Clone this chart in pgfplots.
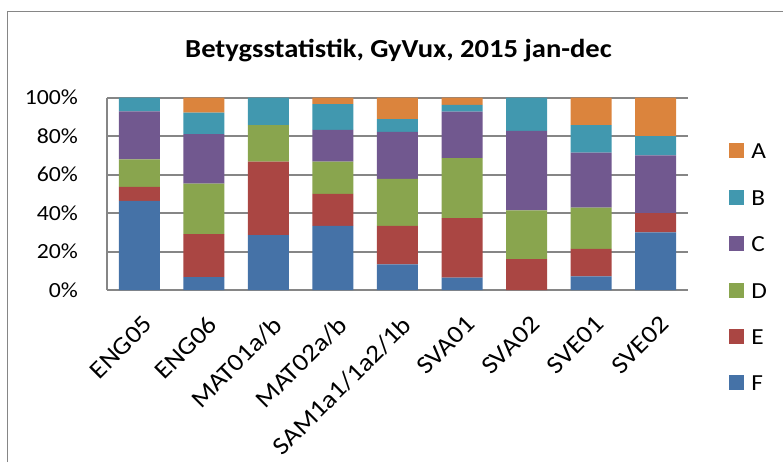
\documentclass[border=0pt]{standalone}
\usepackage{pgfplots}
\pgfplotsset{compat=1.18}
\usepackage{pgfplotstable}
\usepackage{fontspec}
\setmainfont{Carlito}[FakeStretch=1.1]

\definecolor{cA}{HTML}{DB843D}
\definecolor{cB}{HTML}{4198AF}
\definecolor{cC}{HTML}{71588F}
\definecolor{cD}{HTML}{89A54E}
\definecolor{cE}{HTML}{AA4643}
\definecolor{cF}{HTML}{4572A7}
\definecolor{grd}{HTML}{868686}

% andel per betyg (%)
\pgfplotstableread{
x F    E    D    C    B    A
0 46.4 7.2  14.3 25.0 7.1  0
1 6.7  22.4 26.2 25.7 11.2 7.8
2 28.6 38.1 19.0 0    14.3 0
3 33.3 16.7 16.7 16.6 13.4 3.3
4 13.3 20.0 24.5 24.4 6.7  11.1
5 6.4  31.0 31.2 24.1 3.6  3.7
6 0    16.1 25.3 41.4 17.2 0
7 7.1  14.3 21.5 28.5 14.3 14.3
8 30.0 10.0 0    30.0 10.0 20.0
}\betyg

\begin{document}
\begin{tikzpicture}
\useasboundingbox (0,0) rectangle (391.5pt,231pt);
\draw[grd, line width=0.5pt] (3.5pt,0) -- (3.5pt,225.5pt) -- (391.5pt,225.5pt);
\node[anchor=base, font=\fontsize{13}{15}\selectfont\bfseries] at (199.25pt,202.5pt)
  {Betygsstatistik, GyVux, 2015 jan-dec};
\begin{axis}[
  at={(53.5pt,86pt)}, anchor=south west,
  scale only axis, width=290.5pt, height=96.15pt,
  ybar stacked, bar width=20.5pt,
  xmin=-0.5, xmax=8.5, ymin=0, ymax=100,
  xtick=data,
  xticklabels={ENG05,ENG06,MAT01a/b,MAT02a/b,SAM1a1/1a2/1b,SVA01,SVA02,SVE01,SVE02},
  ytick={0,20,40,60,80,100},
  yticklabels={0\%,20\%,40\%,60\%,80\%,100\%},
  major tick length=0pt,
  axis x line*=bottom, axis y line*=left,
  axis line style={grd, line width=1pt, -},
  ymajorgrids, grid style={grd, line width=1pt},
  yticklabel style={font=\fontsize{10.8}{13}\selectfont, xshift=-11pt},
  xticklabel style={font=\fontsize{12.5}{14}\selectfont, xshift=1.5pt, yshift=-12pt,
    rotate=45, anchor=north east, inner sep=0pt},
  reverse legend,
  legend style={at={(1.0706,0.772)}, anchor=north west, draw=none, fill=none,
    inner sep=0pt, row sep=14.7pt, column sep=3.5pt,
    font=\fontsize{11.5}{13}\selectfont,
    nodes={inner sep=0pt, text height=8.5pt, text depth=0pt}},
  legend cell align=left,
  legend image code/.code={\fill[#1] (0pt,-4pt) rectangle (7.5pt,3.5pt);},
]
\addplot[fill=cF, draw=none] table[x=x, y=F] {\betyg};
\addplot[fill=cE, draw=none] table[x=x, y=E] {\betyg};
\addplot[fill=cD, draw=none] table[x=x, y=D] {\betyg};
\addplot[fill=cC, draw=none] table[x=x, y=C] {\betyg};
\addplot[fill=cB, draw=none] table[x=x, y=B] {\betyg};
\addplot[fill=cA, draw=none] table[x=x, y=A] {\betyg};
\legend{F,E,D,C,B,A}
\end{axis}
\end{tikzpicture}
\end{document}
